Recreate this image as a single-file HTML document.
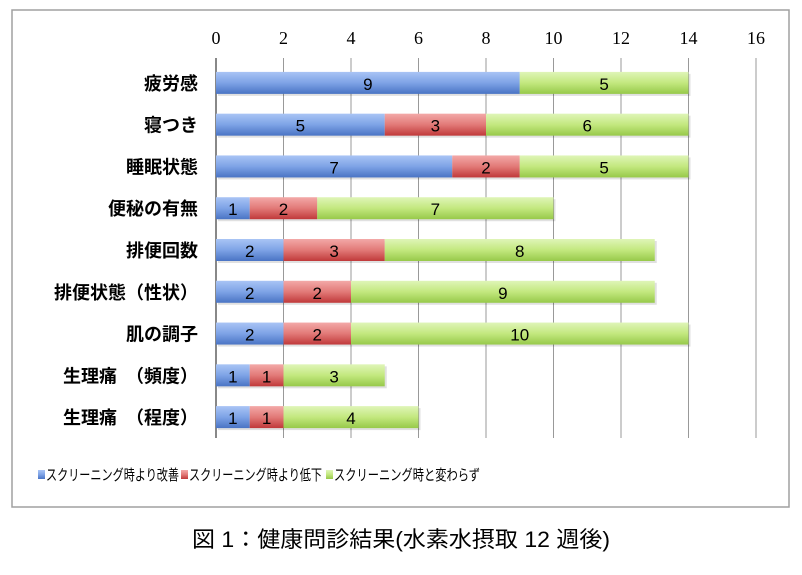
<!DOCTYPE html>
<html><head><meta charset="utf-8"><style>
body{margin:0;background:#fff;width:802px;height:570px;overflow:hidden;font-family:"Liberation Sans","Noto Sans CJK JP",sans-serif}
</style></head><body>
<svg width="802" height="570" xmlns="http://www.w3.org/2000/svg">
<defs>
<linearGradient id="gb" x1="0" y1="0" x2="0" y2="1"><stop offset="0" stop-color="#a9c4f5"/><stop offset="0.5" stop-color="#7ea3e6"/><stop offset="1" stop-color="#4a74c4"/></linearGradient>
<linearGradient id="gr" x1="0" y1="0" x2="0" y2="1"><stop offset="0" stop-color="#f3a9a8"/><stop offset="0.5" stop-color="#e27a78"/><stop offset="1" stop-color="#c0393a"/></linearGradient>
<linearGradient id="gg" x1="0" y1="0" x2="0" y2="1"><stop offset="0" stop-color="#dff5b8"/><stop offset="0.5" stop-color="#c3e87f"/><stop offset="1" stop-color="#97c94a"/></linearGradient>
</defs>
<rect x="12" y="10" width="777" height="497" fill="#fff" stroke="#a0a0a0" stroke-width="1.5"/>
<g id="grid"></g><g id="bars"></g><g id="labels"></g>
<g font-size="15" fill="#000">
<rect x="38" y="470" width="7" height="9" fill="url(#gb)"/><text x="46" y="480" textLength="133" lengthAdjust="spacingAndGlyphs">スクリーニング時より改善</text>
<rect x="181" y="470" width="7" height="9" fill="url(#gr)"/><text x="189" y="480" textLength="133" lengthAdjust="spacingAndGlyphs">スクリーニング時より低下</text>
<rect x="326" y="470" width="7" height="9" fill="url(#gg)"/><text x="334" y="480" textLength="146" lengthAdjust="spacingAndGlyphs">スクリーニング時と変わらず</text>
</g>
<text x="401" y="547" text-anchor="middle" font-size="22" textLength="418" lengthAdjust="spacingAndGlyphs">図 1：健康問診結果(水素水摂取 12 週後)</text>
</svg>
<script>
const categories=["疲労感","寝つき","睡眠状態","便秘の有無","排便回数","排便状態（性状）","肌の調子","生理痛　（頻度）","生理痛　（程度）"];
const improved=[9,5,7,1,2,2,2,1,1];
const declined=[0,3,2,2,3,2,2,1,1];
const unchanged=[5,6,5,7,8,9,10,3,4];
const ticks=[0,2,4,6,8,10,12,14,16];
const NS="http://www.w3.org/2000/svg";
const x0=216,x1=756,yTop=62,yBot=438,maxV=16;
const xs=v=>x0+(x1-x0)*v/maxV;
const band=(yBot-yTop)/categories.length;
const yc=i=>yTop+band*(i+0.5);
function mk(p,t,a){const e=document.createElementNS(NS,t);for(const k in a)e.setAttribute(k,a[k]);p.appendChild(e);return e;}
const grid=document.getElementById('grid'),bars=document.getElementById('bars'),labels=document.getElementById('labels');
ticks.forEach(t=>{
 const l=mk(grid,'line',{x1:xs(t),x2:xs(t),y1:yTop-4,y2:yBot,stroke:t===0?'#888':'#999','stroke-width':t===0?2:1});
 
 
 const tx=mk(grid,'text',{x:xs(t),y:44,'text-anchor':'middle','font-size':18,'font-family':'Liberation Serif,serif'});
 tx.textContent=t;
 
 
});
const series=[[improved,'url(#gb)'],[declined,'url(#gr)'],[unchanged,'url(#gg)']];
categories.forEach((c,i)=>{
 const t=mk(labels,'text',{x:198,y:yc(i)+7,'text-anchor':'end','font-size':18,'font-weight':'bold'});
 t.textContent=c;
 
 
 let acc=0;
 series.forEach(([arr,fill])=>{
  const v=arr[i]; if(!v) return;
  const s=mk(bars,'rect',{x:xs(acc)+2,y:yc(i)-9,width:xs(acc+v)-xs(acc),height:22,fill:'#000','fill-opacity':0.12});
  
  
  const r=mk(bars,'rect',{x:xs(acc),y:yc(i)-11,width:xs(acc+v)-xs(acc),height:22,fill:fill});
  
  
  const tv=mk(bars,'text',{x:(xs(acc)+xs(acc+v))/2,y:yc(i)+7,'text-anchor':'middle','font-size':17});
  tv.textContent=v;
  
  
  acc+=v;
 });
});
</script>
</body></html>
